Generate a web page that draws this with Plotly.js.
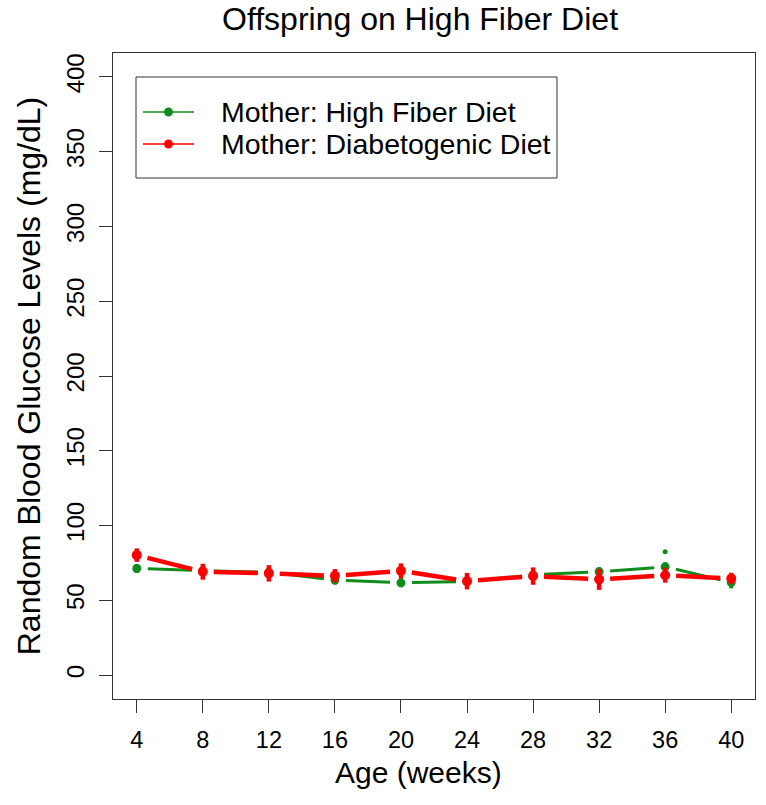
<!DOCTYPE html>
<html>
<head>
<meta charset="utf-8">
<script src="https://cdn.plot.ly/plotly-3.0.1.min.js"></script>
<style>html,body{margin:0;padding:0;background:#fff;}#chart{width:766px;height:805px;}</style>
</head>
<body>
<div id="chart"></div>
<script>
// ---- data ----
const weeks = [4, 8, 12, 16, 20, 24, 28, 32, 36, 40];
const xTickLabels = ["4", "8", "12", "16", "20", "24", "28", "32", "36", "40"];
const yTickVals = [0, 50, 100, 150, 200, 250, 300, 350, 400];
const greenMean = [71.3, 69.8, 68.8, 63.5, 61.7, 62.5, 67.0, 69.1, 72.4, 62.0];
const greenSE   = [3.0, 3.0, 3.0, 3.0, 3.0, 3.0, 2.0, 3.0, 3.0, 4.0];
const redMean   = [80.2, 69.1, 68.0, 66.4, 69.7, 62.8, 66.2, 64.0, 66.8, 64.6];
const redSE     = [4.5, 5.3, 5.5, 4.5, 5.0, 5.5, 5.8, 7.0, 5.0, 3.8];
const greenExtraX = [36];
const greenExtraY = [82.4];
const seriesNames = ["Mother: High Fiber Diet", "Mother: Diabetogenic Diet"];

// ---- layout constants ----
const W = 766, H = 805;
const M = {l: 113, r: 11, t: 53, b: 106};
const xRange = [2.56, 41.44];
const yRange = [-16, 416];
const GREEN = "#0f8c1c", RED = "#ff0000";
const FONT = "Liberation Sans, Arial, Helvetica, sans-serif";

const pw = W - M.l - M.r, ph = H - M.t - M.b;
const pxX = pw / (xRange[1] - xRange[0]);
const pxY = ph / (yRange[1] - yRange[0]);

// R type="b": line segments with gaps around the points
function gapped(xs, ys, gapPx) {
  const ox = [], oy = [];
  for (let i = 0; i < xs.length - 1; i++) {
    const dx = (xs[i + 1] - xs[i]) * pxX, dy = (ys[i + 1] - ys[i]) * pxY;
    const len = Math.sqrt(dx * dx + dy * dy);
    const t = gapPx / len;
    ox.push(xs[i] + (xs[i + 1] - xs[i]) * t, xs[i + 1] - (xs[i + 1] - xs[i]) * t, null);
    oy.push(ys[i] + (ys[i + 1] - ys[i]) * t, ys[i + 1] - (ys[i + 1] - ys[i]) * t, null);
  }
  return {x: ox, y: oy};
}

const gSeg = gapped(weeks, greenMean, 11);
const rSeg = gapped(weeks, redMean, 11);

const traces = [
  {x: gSeg.x, y: gSeg.y, type: "scatter", mode: "lines", line: {color: GREEN, width: 3}, showlegend: false, hoverinfo: "skip"},
  {x: weeks, y: greenMean, type: "scatter", mode: "markers", marker: {color: GREEN, size: 9},
   error_y: {type: "data", array: greenSE, visible: true, color: GREEN, thickness: 4, width: 0}, showlegend: false},
  {x: greenExtraX, y: greenExtraY, type: "scatter", mode: "markers", marker: {color: GREEN, size: 5}, showlegend: false},
  {x: rSeg.x, y: rSeg.y, type: "scatter", mode: "lines", line: {color: RED, width: 4.5}, showlegend: false, hoverinfo: "skip"},
  {x: weeks, y: redMean, type: "scatter", mode: "markers", marker: {color: RED, size: 10},
   error_y: {type: "data", array: redSE, visible: true, color: RED, thickness: 4.5, width: 0}, showlegend: false}
];

// custom R-style legend (paper coords)
const px2x = p => (p - M.l) / pw;
const px2y = p => (H - M.b - p) / ph;
const legRows = [112, 144];
const legColors = [GREEN, RED];
const shapes = [
  {type: "rect", xref: "paper", yref: "paper", x0: px2x(136), x1: px2x(557), y0: px2y(178), y1: px2y(77),
   line: {color: "#333", width: 1}, fillcolor: "rgba(255,255,255,0)"}
];
const annotations = [];
legRows.forEach((ry, i) => {
  shapes.push({type: "line", xref: "paper", yref: "paper", x0: px2x(143), x1: px2x(194), y0: px2y(ry), y1: px2y(ry),
    line: {color: legColors[i], width: 1.5}});
  shapes.push({type: "circle", xref: "paper", yref: "paper", x0: px2x(164), x1: px2x(173), y0: px2y(ry + 4.5), y1: px2y(ry - 4.5),
    fillcolor: legColors[i], line: {color: legColors[i], width: 0}});
  annotations.push({xref: "paper", yref: "paper", x: px2x(219), y: px2y(ry), xanchor: "left", yanchor: "middle",
    text: seriesNames[i], showarrow: false, font: {family: FONT, size: 28.5, color: "#000"}});
});
// x-axis title (R places it slightly left of the plot centre here)
annotations.push({xref: "paper", yref: "paper", x: px2x(418), y: px2y(772), xanchor: "center", yanchor: "middle",
  text: "Age (weeks)", showarrow: false, font: {family: FONT, size: 30, color: "#000"}});

const layout = {
  width: W, height: H,
  margin: M,
  paper_bgcolor: "#fff", plot_bgcolor: "#fff",
  showlegend: false,
  font: {family: FONT, color: "#000"},
  title: {text: "Offspring on High Fiber Diet", x: 420 / W, xref: "container", xanchor: "center", y: 0.977, yanchor: "middle",
          font: {family: FONT, size: 32, color: "#000"}},
  xaxis: {
    range: xRange, tickmode: "array", tickvals: weeks, ticktext: xTickLabels,
    ticks: "outside", ticklen: 13, tickwidth: 1, tickcolor: "#333",
    showline: true, linecolor: "#333", linewidth: 1, mirror: true,
    showgrid: false, zeroline: false, ticklabelstandoff: 7,
    tickfont: {family: FONT, size: 23.5, color: "#000"}
  },
  yaxis: {
    range: yRange, tickmode: "array", tickvals: yTickVals, ticktext: yTickVals.map(String),
    ticks: "outside", ticklen: 13, tickwidth: 1, tickcolor: "#333", tickangle: -90,
    showline: true, linecolor: "#333", linewidth: 1, mirror: true,
    showgrid: false, zeroline: false, ticklabelstandoff: 5,
    tickfont: {family: FONT, size: 24, color: "#000"},
    title: {text: "Random Blood Glucose Levels (mg/dL)", font: {family: FONT, size: 32, color: "#000"}, standoff: 12}
  },
  shapes: shapes,
  annotations: annotations
};

Plotly.newPlot("chart", traces, layout, {displayModeBar: false, staticPlot: true});
</script>
</body>
</html>
